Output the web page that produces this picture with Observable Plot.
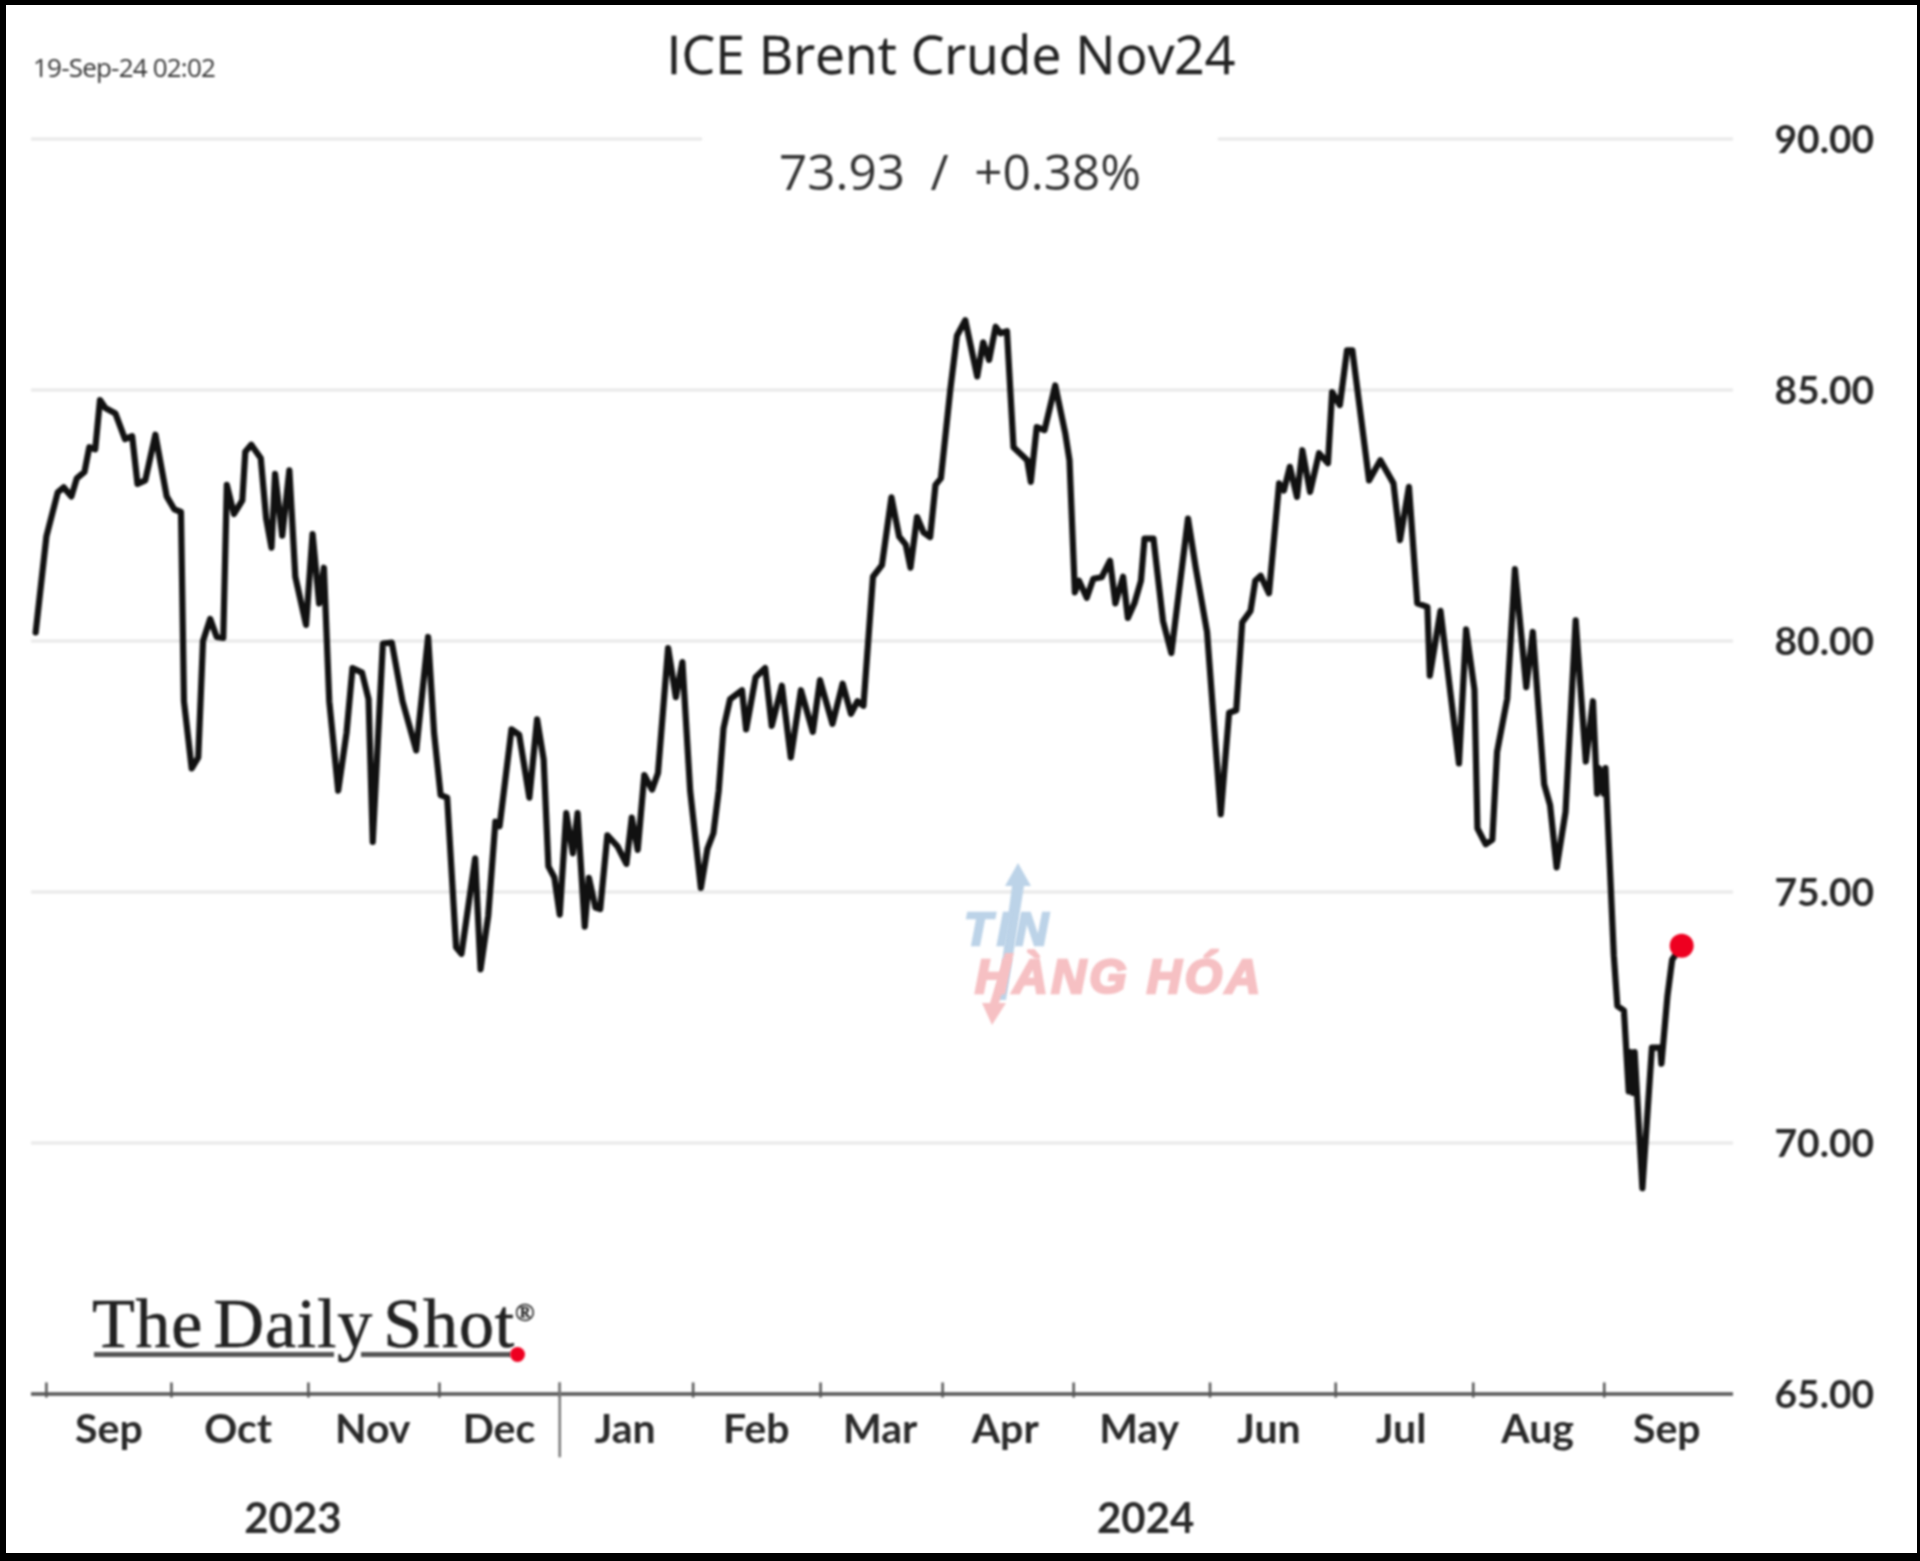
<!DOCTYPE html>
<html>
<head>
<meta charset="utf-8">
<script src="https://cdn.jsdelivr.net/npm/d3@7"></script>
<script src="https://cdn.jsdelivr.net/npm/@observablehq/plot@0.6"></script>
<style>
html,body{margin:0;padding:0;background:#fff;width:1920px;height:1561px;overflow:hidden}
#wrap{position:relative;width:1920px;height:1561px}
#wrap svg{display:block}
#chart{filter:blur(1px)}
.abs{position:absolute;white-space:nowrap;line-height:1;filter:blur(.8px)}
#frame{position:absolute;inset:0;box-sizing:border-box;border-style:solid;border-color:#000;border-width:5px 3px 8px 6px;pointer-events:none}
</style>
</head>
<body>
<div id="wrap">
  <div id="chart"></div>
  <div class="abs" style="left:33px;top:49px;font:26px 'Open Sans';letter-spacing:-.8px;color:#333">19-Sep-24 02:02</div>
  <div class="abs" style="left:951px;top:17px;transform:translateX(-50%);font:53.4px 'Open Sans';color:#222;-webkit-text-stroke:.3px #222">ICE Brent Crude Nov24</div>
  <div class="abs" style="left:960px;top:137px;transform:translateX(-50%);font:49.4px 'Open Sans';color:#333;white-space:pre">73.93  /  +0.38%</div>

  <svg class="abs" style="left:0;top:0" width="1920" height="1561">
    <polygon points="1018,863 1031,886 1024,886 1006,1000 997,1000 1012,886 1005,886" fill="#bcd3e8"/>
    <polygon points="992,1025 982,1003 990,1003 1005,953 1014,953 999,1003 1006,1003" fill="#f6c0c3"/>
  </svg>
  <div class="abs" style="left:964px;top:902px;font:italic 700 46px 'Liberation Sans';letter-spacing:5px;color:#bcd3e8;-webkit-text-stroke:2.4px #bcd3e8">TIN</div>
  <div class="abs" style="left:975px;top:949px;font:italic 700 48px 'Liberation Sans';letter-spacing:3.4px;color:#f6c0c3;-webkit-text-stroke:2.6px #f6c0c3">HÀNG HÓA</div>

  <div class="abs" style="left:92px;top:1284px;font:70px 'Liberation Serif';letter-spacing:.8px;word-spacing:-8px;color:#222;-webkit-text-stroke:.6px #222">The Daily Shot<span style="font-size:26px;vertical-align:26px;letter-spacing:0">®</span></div>
  <div class="abs" style="left:94px;top:1352px;width:240px;height:5px;background:#555"></div>
  <div class="abs" style="left:361px;top:1352px;width:150px;height:5px;background:#555"></div>
  <div class="abs" style="left:510px;top:1347px;width:15px;height:15px;border-radius:50%;background:#ee0020"></div>
  <div id="frame"></div>
</div>
<script>
const days = [-1.8,0,1.9,2.9,4.2,5.1,6.4,7.2,8.2,9,9.9,11.6,13.2,14.4,15.3,16.6,18.3,20.2,21.5,22.6,23.1,24.4,25.5,26.3,27.5,28.6,29.7,30.3,31.5,32.9,33.4,34.4,36,36.9,37.8,38.4,39.6,40.8,41.8,43.6,44.7,45.8,46.6,47.5,49,50.4,51.4,53,54.1,54.8,56.5,58,59.8,62.1,64.1,65.1,66.2,67.3,68.8,69.7,72,72.9,74.2,75.4,76.1,78.1,79.4,81.1,82.4,83.5,84.3,85.3,86.2,87.3,88.4,89.2,90.4,91.1,92.2,
93,94.2,95.9,97.4,98.3,99.3,100.4,101.7,102.7,104.4,105.7,106.8,108.1,109.9,111,112,112.9,113.7,114.8,116.8,117.5,119.1,120.7,121.8,123.5,125,126.7,128.7,129.9,132,133.7,135.1,136.2,137.2,138.8,140.3,141.9,143.2,144.3,145.1,146.2,147.3,148.4,149.3,150.2,151.8,152.9,154.3,156.3,157.3,158.3,159.4,160.2,161.3,162.4,164.7,165.3,166.3,167.6,169.4,171.1,171.8,172.7,173.4,174.7,175.8,177.2,178.6,179.5,180.8,181.6,182.7,183.8,184.4,185.9,187.5,188.9,191.7,193,
194.9,197.2,198.6,199.8,200.8,202.2,203,203.9,205.3,207,207.8,208.8,210,210.9,212.2,213.7,215.2,215.9,217.2,218.4,219.3,222.1,224,226.2,227.3,228.8,230.2,231.9,232.3,234.1,237.2,238.4,239.8,240.3,241.7,242.8,243.6,245.3,246.6,248.5,249.6,251.5,252.5,253.6,255.1,256.8,258.5,259.7,260.4,260.7,261.5,261.8,263.2,263.8,264.9,265.7,266,266.4,266.7,268,269.6,271,271.2,272.2,273,274.6];
const prices = [80.17,82.08,82.96,83.06,82.88,83.24,83.37,83.86,83.82,84.8,84.64,84.53,84.02,84.08,83.13,83.2,84.11,82.88,82.62,82.57,78.8,77.46,77.68,80,80.44,80.08,80.06,83.11,82.53,82.8,83.77,83.91,83.64,82.44,81.86,83.33,82.1,83.4,81.28,80.32,82.13,80.75,81.46,78.8,77.02,78.17,79.46,79.37,78.84,76,79.95,79.97,78.8,77.82,80.08,78.17,76.93,76.88,73.9,73.77,75.67,73.46,74.53,76.4,76.31,78.24,78.13,76.88,78.44,77.64,75.51,75.29,74.55,76.57,75.77,76.57,74.31,75.28,74.69,
74.66,76.13,75.91,75.56,76.48,75.84,77.33,77.04,77.37,79.86,78.88,79.58,77.02,75.08,75.86,76.17,77.02,78.26,78.84,79.02,78.24,79.28,79.46,78.31,79.11,77.68,79.02,78.19,79.22,78.35,79.15,78.55,78.8,78.71,81.28,81.51,82.86,82.08,81.92,81.46,82.47,82.16,82.07,83.11,83.24,85.02,86.08,86.39,85.27,85.95,85.6,86.26,86.13,86.17,83.86,83.6,83.17,84.26,84.2,85.09,84.13,83.6,80.97,81.2,80.86,81.24,81.27,81.6,80.75,81.28,80.46,80.75,81.2,82.04,82.04,80.4,79.76,82.44,81.46,
80.18,76.55,78.57,78.62,80.37,80.6,81.2,81.3,80.95,83.14,83,83.47,82.87,83.8,82.97,83.74,83.54,84.96,84.7,85.79,85.79,83.2,83.6,83.14,82.01,83.07,80.75,80.68,79.31,80.6,77.56,80.23,79.03,76.27,75.95,76.04,77.79,78.85,81.43,79.08,80.18,77.15,76.73,75.49,76.6,80.41,77.6,78.8,76.96,77.47,76.96,77.47,73.74,72.73,72.64,71.03,71.81,71,71.81,69.1,71.9,71.9,71.58,72.92,73.65,73.93];
const monthTicks = [0,21,44,66,86.2,108.6,130,150.5,172.5,195.4,216.5,239.6,261.6];
const monthLabels = ["Sep","Oct","Nov","Dec","Jan","Feb","Mar","Apr","May","Jun","Jul","Aug","Sep"];
const monthLabelDays = [10.5,32.2,54.8,76,97.2,119.2,140,161,183.5,205.3,227.5,250.4,272.1];
const yearLabels = ["2023","2024"];
const yearDays = [41.4,184.6];
const yearSplit = 86.2;
const gridValues = [70,75,80,85];
const topGridSpans = [[-2.5,110.2],[196.8,283.3]];
const yTicks = [65,70,75,80,85,90];

const rows = days.map((d,i)=>({day:d,price:prices[i]}));
const last = rows[rows.length-1];
const LABEL = {fontFamily:"Lato",fontWeight:700,fill:"#2a2a2a"};

const plot = Plot.plot({
  width:1920,height:1561,
  marginLeft:31,marginRight:187,marginTop:138.5,marginBottom:167.5,
  style:{background:"transparent",overflow:"visible"},
  x:{domain:[-2.5,283.3],axis:null},
  y:{domain:[65,90]},
  marks:[
    Plot.ruleY(gridValues,{stroke:"#e8e8e8",strokeWidth:3}),
    ...topGridSpans.map(s=>Plot.ruleY([90],{x1:s[0],x2:s[1],stroke:"#e8e8e8",strokeWidth:3})),
    Plot.ruleY([65],{stroke:"#555",strokeWidth:3.5}),
    Plot.ruleX(monthTicks,{y1:65.22,y2:64.92,stroke:"#555",strokeWidth:2.5}),
    Plot.ruleX([yearSplit],{y1:65.22,y2:63.73,stroke:"#777",strokeWidth:2.5}),
    Plot.axisY(yTicks,{anchor:"right",tickSize:0,tickPadding:41,label:null,tickFormat:d=>d.toFixed(2),textAnchor:"start",dy:2,fontSize:39,...LABEL}),
    Plot.text(monthLabels,{x:(d,i)=>monthLabelDays[i],y:()=>64.29,text:d=>d,lineAnchor:"middle",fontSize:41,...LABEL}),
    Plot.text(yearLabels,{x:(d,i)=>yearDays[i],y:()=>62.5,text:d=>d,lineAnchor:"middle",fontSize:42,...LABEL}),
    Plot.line(rows,{x:"day",y:"price",stroke:"#111",strokeWidth:6.2,strokeLinejoin:"round",strokeLinecap:"round"}),
    Plot.dot([last],{x:"day",y:"price",r:12,fill:"#ee0020",stroke:"none"})
  ]
});
document.getElementById("chart").appendChild(plot);
</script>
</body>
</html>
